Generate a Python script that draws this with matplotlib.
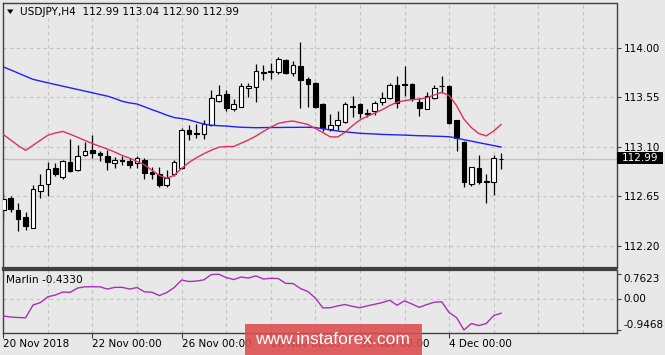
import matplotlib.pyplot as plt
from matplotlib.patches import Rectangle, Polygon

# USDJPY H4 candles
opens = [112.53, 112.64, 112.53, 112.46, 112.36, 112.70, 112.76, 112.91, 112.83, 112.96,
         112.89, 113.03, 113.07, 113.04, 113.02, 112.95, 112.98, 112.97, 112.95, 112.98,
         112.87, 112.85, 112.75, 112.85, 112.91, 113.25, 113.23, 113.22, 113.30, 113.52,
         113.58, 113.44, 113.46, 113.63, 113.64, 113.78, 113.78, 113.78, 113.89, 113.77,
         113.83, 113.72, 113.68, 113.49, 113.26, 113.30, 113.33, 113.465, 113.49, 113.41,
         113.43, 113.51, 113.54, 113.66, 113.66, 113.67, 113.51, 113.44, 113.54, 113.65,
         113.65, 113.34, 113.14, 112.76, 112.91, 112.79, 112.78, 112.99]
highs = [112.68, 112.65, 112.59, 112.51, 112.75, 112.85, 112.96, 112.95, 112.98, 113.17,
         113.12, 113.14, 113.21, 113.06, 113.07, 113.01, 113.02, 113.00, 113.02, 113.00,
         112.92, 112.92, 112.89, 112.98, 113.27, 113.30, 113.31, 113.34, 113.62, 113.66,
         113.62, 113.53, 113.68, 113.68, 113.85, 113.84, 113.86, 113.92, 113.90, 113.88,
         114.05, 113.73, 113.69, 113.50, 113.40, 113.43, 113.51, 113.56, 113.50, 113.44,
         113.52, 113.60, 113.68, 113.74, 113.83, 113.68, 113.54, 113.60, 113.66, 113.74,
         113.66, 113.34, 113.15, 112.92, 113.03, 112.85, 113.03, 113.04]
lows = [112.42, 112.51, 112.34, 112.35, 112.36, 112.64, 112.65, 112.84, 112.81, 112.87,
        112.88, 113.02, 113.00, 112.97, 112.89, 112.91, 112.94, 112.91, 112.91, 112.81,
        112.81, 112.74, 112.74, 112.84, 112.90, 113.16, 113.18, 113.17, 113.29, 113.51,
        113.43, 113.43, 113.46, 113.55, 113.51, 113.71, 113.72, 113.76, 113.76, 113.74,
        113.45, 113.46, 113.45, 113.24, 113.24, 113.25, 113.32, 113.37, 113.36, 113.37,
        113.39, 113.48, 113.53, 113.45, 113.56, 113.52, 113.38, 113.44, 113.53, 113.59,
        113.31, 113.06, 112.74, 112.745, 112.76, 112.59, 112.66, 112.90]
closes = [112.63, 112.54, 112.45, 112.38, 112.72, 112.75, 112.90, 112.85, 112.97, 112.88,
          113.02, 113.06, 113.04, 113.03, 112.96, 112.98, 112.97, 112.94, 113.00, 112.86,
          112.85, 112.75, 112.82, 112.96, 113.25, 113.22, 113.22, 113.31, 113.54, 113.57,
          113.45, 113.49, 113.65, 113.65, 113.79, 113.77, 113.79, 113.90, 113.77, 113.84,
          113.71, 113.67, 113.46, 113.27, 113.30, 113.34, 113.49, 113.474, 113.41, 113.40,
          113.50, 113.54, 113.66, 113.50, 113.67, 113.53, 113.45, 113.56, 113.63, 113.65,
          113.32, 113.18, 112.78, 112.915, 112.78, 112.785, 113.00, 112.99]

# moving averages (red = fast, blue = slow)
ma_fast = [113.213, 113.162, 113.112, 113.069, 113.114, 113.161, 113.206, 113.226, 113.240, 113.215,
           113.187, 113.158, 113.130, 113.105, 113.081, 113.053, 113.022, 112.998, 112.968, 112.937,
           112.888, 112.841, 112.815, 112.842, 112.905, 112.959, 113.002, 113.038, 113.070, 113.097,
           113.103, 113.103, 113.133, 113.163, 113.198, 113.240, 113.279, 113.313, 113.327, 113.335,
           113.319, 113.303, 113.267, 113.230, 113.191, 113.190, 113.232, 113.293, 113.344, 113.378,
           113.407, 113.437, 113.475, 113.505, 113.519, 113.529, 113.535, 113.546, 113.571, 113.595,
           113.565, 113.475, 113.352, 113.275, 113.221, 113.200, 113.244, 113.303]
ma_slow = [113.826, 113.798, 113.770, 113.741, 113.713, 113.697, 113.681, 113.666, 113.651, 113.636,
           113.621, 113.606, 113.591, 113.575, 113.561, 113.539, 113.514, 113.499, 113.489, 113.464,
           113.438, 113.414, 113.388, 113.366, 113.357, 113.345, 113.325, 113.307, 113.297, 113.292,
           113.289, 113.283, 113.278, 113.276, 113.274, 113.275, 113.276, 113.276, 113.277, 113.277,
           113.278, 113.278, 113.275, 113.265, 113.253, 113.244, 113.236, 113.230, 113.223, 113.220,
           113.217, 113.213, 113.211, 113.209, 113.207, 113.204, 113.201, 113.200, 113.197, 113.195,
           113.192, 113.180, 113.165, 113.152, 113.138, 113.125, 113.112, 113.099]

# Marlin oscillator
marlin = [-0.518, -0.549, -0.564, -0.571, -0.181, -0.104, 0.074, 0.126, 0.218, 0.209,
          0.340, 0.380, 0.380, 0.380, 0.310, 0.362, 0.362, 0.310, 0.356, 0.224,
          0.212, 0.110, 0.202, 0.356, 0.586, 0.540, 0.555, 0.592, 0.755, 0.7623,
          0.663, 0.601, 0.678, 0.647, 0.715, 0.617, 0.641, 0.632, 0.485, 0.479,
          0.325, 0.233, 0.034, -0.267, -0.264, -0.206, -0.166, -0.221, -0.264, -0.206,
          -0.157, -0.104, -0.034, -0.187, -0.052, -0.150, -0.252, -0.166, -0.095, -0.080,
          -0.411, -0.564, -0.9468, -0.748, -0.810, -0.748, -0.503, -0.433]

last_price = 112.99
price_ticks = [112.20, 112.65, 113.10, 113.55, 114.00]
marlin_ticks = [-0.9468, 0.0, 0.7623]
date_bars = [0, 12, 24, 36, 48, 60]
date_labels = ["20 Nov 2018", "22 Nov 00:00", "26 Nov 00:00", "28 Nov 00:00",
               "30 Nov 00:00", "4 Dec 00:00"]

W, H = 665, 355
BG = "#e8e8e8"
GRID = "#c2c2c2"
EDGE = "#404040"

fig = plt.figure(figsize=(W / 100, H / 100), dpi=100, facecolor=BG)


def box(left, top, right, bottom):
    return [left / W, 1 - bottom / H, (right - left) / W, (bottom - top) / H]


ax = fig.add_axes(box(3, 3, 616.5, 268))
ax2 = fig.add_axes(box(3, 270, 616.5, 332.5))

bars = list(range(len(opens)))
xmin = -0.04
xmax = xmin + (616.5 - 3) / 7.43

for a in (ax, ax2):
    a.set_facecolor(BG)
    a.set_xlim(xmin, xmax)
    for s in a.spines.values():
        s.set_color(EDGE)
        s.set_linewidth(1.0)
    for k in range(6, 84, 6):
        a.axvline(k, color=GRID, lw=0.8, ls=(0, (3, 3)), zorder=0)
ax.spines["bottom"].set_linewidth(1.6)
ax2.spines["top"].set_linewidth(1.6)

# main price panel
ax.set_ylim(112.0009, 114.4056)
for p in price_ticks:
    ax.axhline(p, color=GRID, lw=0.8, ls=(0, (3, 3)), zorder=0)
ax.axhline(last_price, color="#c4c4c4", lw=1.0, zorder=1)

ax.vlines(bars, lows, highs, color="black", lw=0.9, zorder=2)
bottoms = [min(o, c) for o, c in zip(opens, closes)]
heights = [abs(c - o) for o, c in zip(opens, closes)]
fills = ["white" if c >= o else "black" for o, c in zip(opens, closes)]
ax.bar(bars, heights, bottom=bottoms, width=0.62, color=fills,
       edgecolor="black", linewidth=0.8, zorder=3)

ax.plot(bars, ma_slow, color="#1f1fff", lw=1.0, zorder=4)
ax.plot(bars, ma_fast, color="#e0305a", lw=1.0, zorder=4)

ax.set_xticks([])
ax.yaxis.tick_right()
ax.set_yticks(price_ticks)
ax.set_yticklabels([f"{p:.2f}" for p in price_ticks])
ax.tick_params(axis="y", length=3, width=0.8, pad=2, labelsize=7.5, color=EDGE)

# indicator panel
ax2.set_ylim(-1.023, 0.8942)
ax2.axhline(0, color=GRID, lw=0.8, ls=(0, (3, 3)), zorder=0)
ax2.plot(bars, marlin, color="#a830b8", lw=1.0, zorder=3)
ax2.yaxis.tick_right()
ax2.set_yticks(marlin_ticks)
ax2.set_yticklabels(["-0.9468", "0.00", "0.7623"])
ax2.tick_params(axis="y", length=3, width=0.8, pad=2, labelsize=7.5, color=EDGE)
for lbl, va in zip(ax2.get_yticklabels(), ["bottom", "center", "top"]):
    lbl.set_verticalalignment(va)
ax2.set_xticks(date_bars)
ax2.set_xticklabels(date_labels, ha="left")
ax2.tick_params(axis="x", length=3.5, width=0.8, pad=1.5, labelsize=7.5, color=EDGE)

# header texts
fig.add_artist(Polygon([[7 / W, 1 - 9.5 / H], [13.5 / W, 1 - 9.5 / H], [10.25 / W, 1 - 14 / H]],
                       closed=True, facecolor="black", edgecolor="none", transform=fig.transFigure))
fig.text(19.5 / W, 1 - 12.3 / H, "USDJPY,H4  112.99 113.04 112.90 112.99",
         va="center", ha="left", fontsize=7.6)
fig.text(6.5 / W, 1 - 280 / H, "Marlin -0.4330", va="center", ha="left", fontsize=7.6)

# current price marker on the price scale
fig.add_artist(Rectangle((617 / W, 1 - 164 / H), 46 / W, 11.7 / H, facecolor="black",
                         edgecolor="none", transform=fig.transFigure, zorder=5))
fig.text(640 / W, 1 - 158.2 / H, f"{last_price:.2f}", color="white", ha="center",
         va="center", fontsize=7.5, zorder=6)

# watermark (covers part of the date scale, as in the original)
fig.add_artist(Rectangle((245 / W, 0), 177 / W, 31 / H, facecolor="#dc4c4c", alpha=0.88,
                         edgecolor="none", transform=fig.transFigure, zorder=7))
fig.text(332 / W, 1 - 340 / H, "www.instaforex.com", color="white", ha="center",
         va="center", fontsize=12.5, family="Liberation Sans", zorder=8)

fig.savefig("out.png", dpi=100, facecolor=BG)
